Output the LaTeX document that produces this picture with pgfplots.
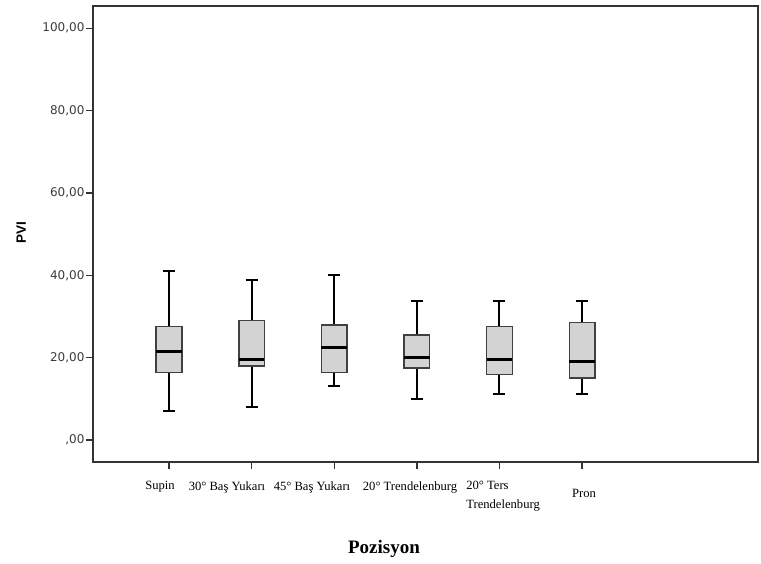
\documentclass[border=0pt]{standalone}
\usepackage{pgfplots}
\pgfplotsset{compat=1.18}
\usepackage{fontspec}
\setmainfont{Liberation Serif}
\newfontfamily\dejavu{DejaVu Sans}
\newfontfamily\arial{Liberation Sans}
\definecolor{boxfill}{RGB}{211,211,211}
\definecolor{tickgray}{RGB}{60,60,60}
\pgfplotsset{
  boxst/.style={fill=boxfill, draw=black!75, line width=1.4pt},
  whisk/.style={black, line width=2pt, unbounded coords=jump},
  med/.style={black, line width=2.8pt},
}
\begin{document}
\begin{tikzpicture}
\useasboundingbox (-93pt,-101pt) rectangle (668pt,462pt);
\begin{axis}[
  at={(0,0)}, anchor=south west,
  scale only axis, width=665pt, height=456pt,
  xmin=-0.92, xmax=7.13, ymin=-5.3, ymax=105.4,
  axis line style={line width=1.4pt, draw=black!80},
  tick pos=left, tick align=outside, major tick length=7pt,
  tick style={line width=1.4pt, black!80},
  xtick={0,...,5},
  xticklabels={},
  extra x ticks={-0.109,0.702,1.731,2.918,4.044,5.024},
  extra x tick labels={Supin, 30° Baş Yukarı, 45° Baş Yukarı, 20° Trendelenburg, {20° Ters\\Trendelenburg}, {\rule{0pt}{16pt}Pron}},
  extra x tick style={major tick length=0pt, tick style={draw=none},
    xticklabel style={font=\fontsize{12.6}{18.5}\selectfont, align=left, anchor=north, yshift=-16pt}},
  ytick={0,20,...,100},
  yticklabels={{,00},{20,00},{40,00},{60,00},{80,00},{100,00}},
  yticklabel style={font=\dejavu\fontsize{12}{14}\selectfont, text=tickgray, xshift=2pt},
  xlabel={\bfseries Pozisyon},
  xlabel style={at={(axis description cs:0.4376,-0.191)}, anchor=center, font=\fontsize{19}{22}\selectfont},
  ylabel={\arial\bfseries PVI},
  ylabel style={at={(axis description cs:-0.108,0.504)}, anchor=center, font=\fontsize{13.5}{16}\selectfont},
]
% Supin (x=0): 7.0, 16.5, 21.6, 27.6, 41.0
\addplot[whisk] coordinates {(0,7.0) (0,16.5) (nan,nan) (0,27.6) (0,41.0) (nan,nan) (-0.0725,7.0) (0.0725,7.0) (nan,nan) (-0.0725,41.0) (0.0725,41.0)};
\addplot[boxst] coordinates {(-0.155,16.5) (0.155,16.5) (0.155,27.6) (-0.155,27.6)} -- cycle;
\addplot[med] coordinates {(-0.155,21.6) (0.155,21.6)};
% 30 Bas Yukari (x=1): 8.1, 18.0, 19.6, 29.0, 39.0
\addplot[whisk] coordinates {(1,8.1) (1,18.0) (nan,nan) (1,29.0) (1,39.0) (nan,nan) (0.9275,8.1) (1.0725,8.1) (nan,nan) (0.9275,39.0) (1.0725,39.0)};
\addplot[boxst] coordinates {(0.845,18.0) (1.155,18.0) (1.155,29.0) (0.845,29.0)} -- cycle;
\addplot[med] coordinates {(0.845,19.6) (1.155,19.6)};
% 45 Bas Yukari (x=2): 13.1, 16.5, 22.5, 28.0, 40.0
\addplot[whisk] coordinates {(2,13.1) (2,16.5) (nan,nan) (2,28.0) (2,40.0) (nan,nan) (1.9275,13.1) (2.0725,13.1) (nan,nan) (1.9275,40.0) (2.0725,40.0)};
\addplot[boxst] coordinates {(1.845,16.5) (2.155,16.5) (2.155,28.0) (1.845,28.0)} -- cycle;
\addplot[med] coordinates {(1.845,22.5) (2.155,22.5)};
% 20 Trendelenburg (x=3): 10.1, 17.5, 20.1, 25.5, 33.9
\addplot[whisk] coordinates {(3,10.1) (3,17.5) (nan,nan) (3,25.5) (3,33.9) (nan,nan) (2.9275,10.1) (3.0725,10.1) (nan,nan) (2.9275,33.9) (3.0725,33.9)};
\addplot[boxst] coordinates {(2.845,17.5) (3.155,17.5) (3.155,25.5) (2.845,25.5)} -- cycle;
\addplot[med] coordinates {(2.845,20.1) (3.155,20.1)};
% 20 Ters Trendelenburg (x=4): 11.1, 15.9, 19.6, 27.6, 33.9
\addplot[whisk] coordinates {(4,11.1) (4,15.9) (nan,nan) (4,27.6) (4,33.9) (nan,nan) (3.9275,11.1) (4.0725,11.1) (nan,nan) (3.9275,33.9) (4.0725,33.9)};
\addplot[boxst] coordinates {(3.845,15.9) (4.155,15.9) (4.155,27.6) (3.845,27.6)} -- cycle;
\addplot[med] coordinates {(3.845,19.6) (4.155,19.6)};
% Pron (x=5): 11.1, 15.1, 19.1, 28.6, 33.9
\addplot[whisk] coordinates {(5,11.1) (5,15.1) (nan,nan) (5,28.6) (5,33.9) (nan,nan) (4.9275,11.1) (5.0725,11.1) (nan,nan) (4.9275,33.9) (5.0725,33.9)};
\addplot[boxst] coordinates {(4.845,15.1) (5.155,15.1) (5.155,28.6) (4.845,28.6)} -- cycle;
\addplot[med] coordinates {(4.845,19.1) (5.155,19.1)};
\end{axis}
\end{tikzpicture}
\end{document}
